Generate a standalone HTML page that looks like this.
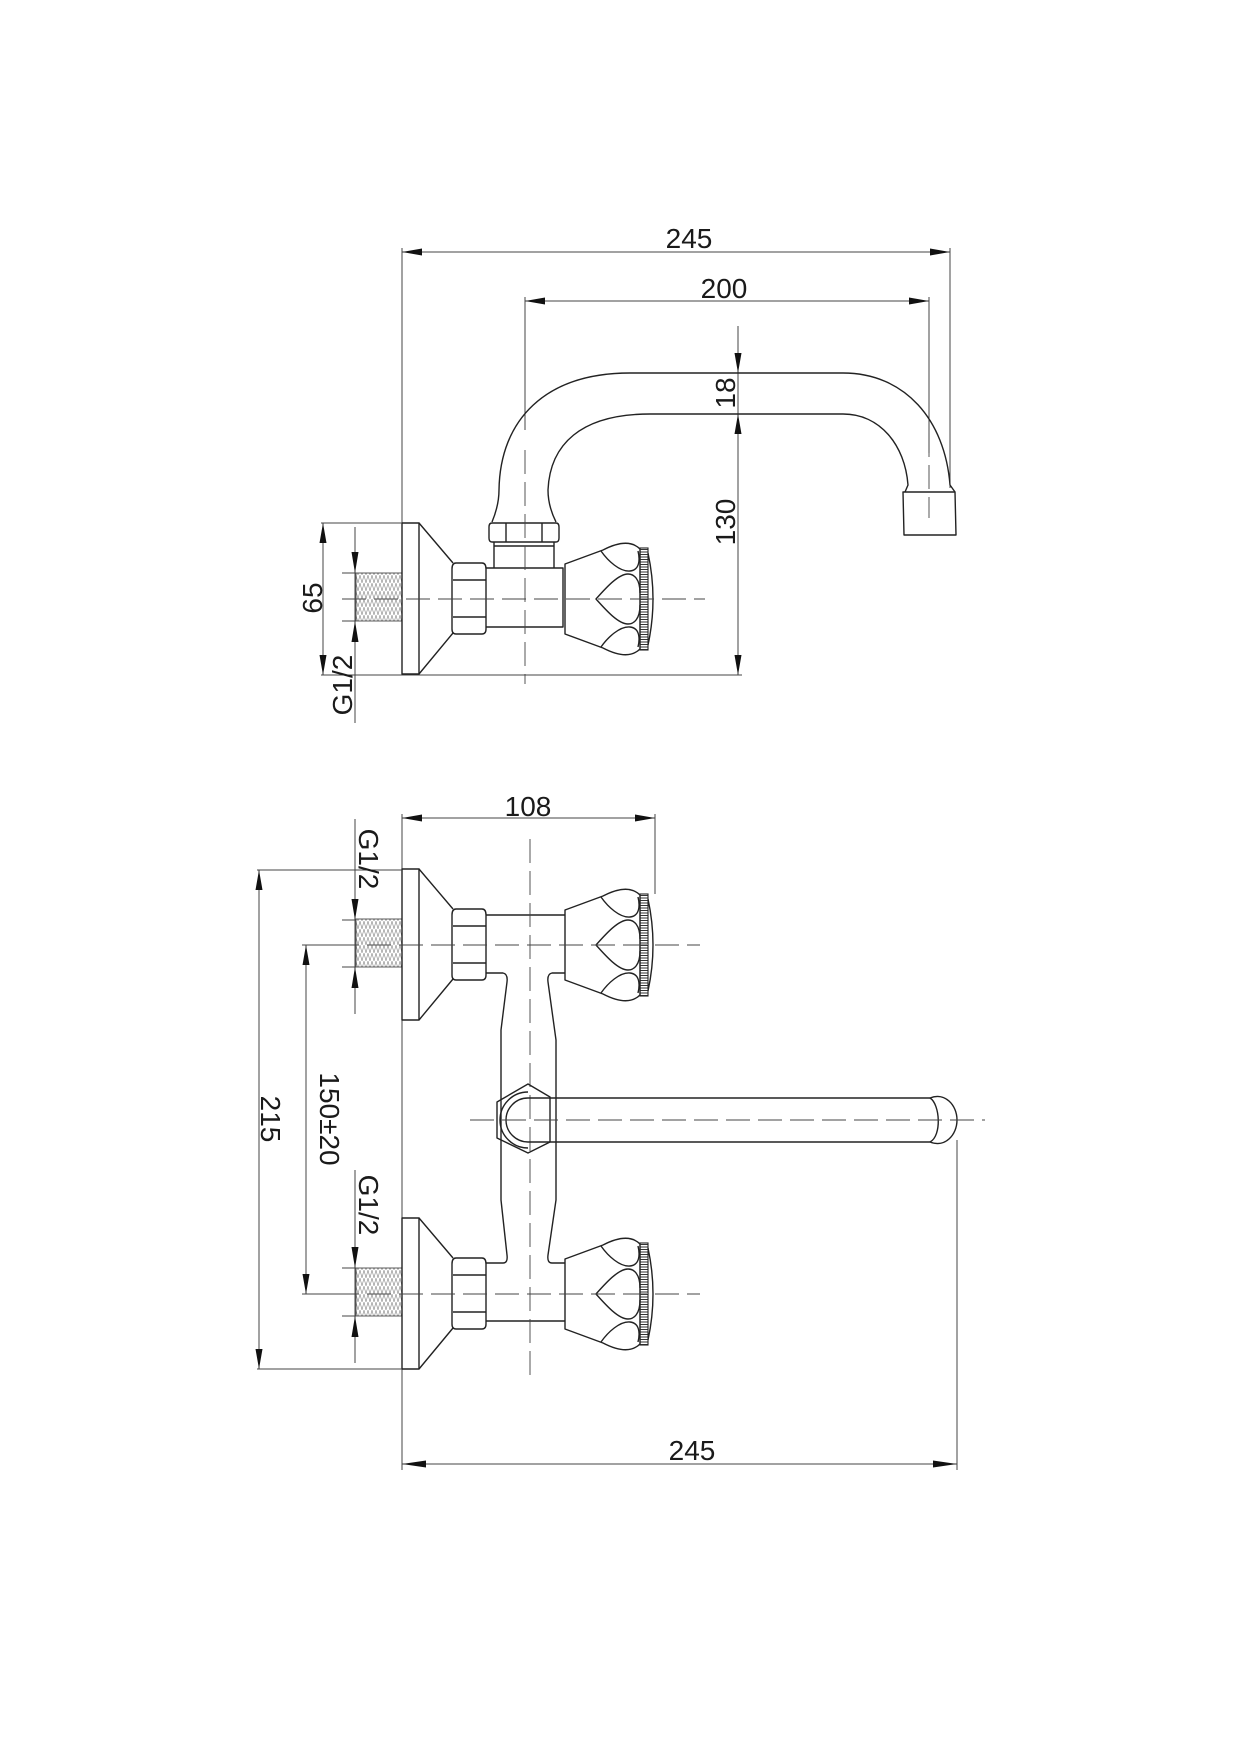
<!DOCTYPE html>
<html><head><meta charset="utf-8"><style>
html,body{margin:0;padding:0;background:#fff}
svg{display:block}
text{font-family:"Liberation Sans",Arial,sans-serif;font-size:28px;fill:#1a1a1a}
.o{fill:none;stroke:#222;stroke-width:1.4;stroke-linejoin:round}
.d{fill:none;stroke:#444;stroke-width:1}
.c{fill:none;stroke:#444;stroke-width:0.9;stroke-dasharray:24 8}
.a{fill:#111;stroke:none}
</style></head><body>
<svg width="1240" height="1754" viewBox="0 0 1240 1754" xmlns="http://www.w3.org/2000/svg">
<defs>
<pattern id="th" width="4" height="8" patternUnits="userSpaceOnUse">
<path d="M0,0 L2,8 L4,0" fill="none" stroke="#888" stroke-width="0.6"/>
</pattern>
<pattern id="kn" width="8" height="2.5" patternUnits="userSpaceOnUse">
<rect width="8" height="1" fill="#333"/>
</pattern>
<g id="valve">
<rect x="356" y="-26" width="46" height="48" fill="url(#th)" stroke="#333" stroke-width="0.8"/>
<rect class="o" x="402" y="-76" width="17" height="151"/>
<path class="o" d="M419,-76 L453,-36 M419,75 L453,34"/>
<path class="o" d="M456,-36 L482,-36 Q486,-36 486,-30 L486,30 Q486,35 482,35 L456,35 Q452,35 452,30 L452,-30 Q452,-36 456,-36 Z"/>
<path class="o" d="M453,-19 L486,-19 M453,18 L486,18"/>
<path class="o" d="M565,-35 L603,-49 Q628,-62 640,-50 L640,50 Q628,62 603,49 L565,35 Z"/>
<rect x="640" y="-51" width="8" height="102" fill="url(#kn)" stroke="#222" stroke-width="1.1"/>
<path class="o" d="M648,-46 Q658,0 648,46"/>
<path class="o" d="M601,-48 C608,-38 620,-27 630,-28 C640,-29 640,-40 638,-48"/>
<path class="o" d="M601,48 C608,38 620,27 630,28 C640,29 640,40 638,48"/>
<path class="o" d="M640,-6 C640,-20 634,-25 628,-25 C618,-25 605,-10 596,0 C605,10 618,25 628,25 C634,25 640,20 640,6"/>
</g>
</defs>

<!-- TOP VIEW -->
<line class="d" x1="402" y1="248" x2="402" y2="674"/>
<line class="d" x1="950" y1="248" x2="950" y2="488"/>
<line class="d" x1="402" y1="252" x2="950" y2="252"/>
<path class="a" d="M402,252 L422,248.5 L422,255.5 Z M950,252 L930,248.5 L930,255.5 Z"/>
<text x="689" y="248" text-anchor="middle">245</text>
<line class="d" x1="525" y1="297" x2="525" y2="430"/>
<line class="d" x1="929" y1="297" x2="929" y2="453"/>
<line class="d" x1="525" y1="301" x2="929" y2="301"/>
<path class="a" d="M525,301 L545,297.5 L545,304.5 Z M929,301 L909,297.5 L909,304.5 Z"/>
<text x="724" y="298" text-anchor="middle">200</text>
<line class="c" x1="929" y1="433" x2="929" y2="518"/>
<line class="d" x1="738" y1="326" x2="738" y2="675"/>
<path class="a" d="M738,373 L734.5,353 L741.5,353 Z M738,414 L734.5,434 L741.5,434 Z M738,675 L734.5,655 L741.5,655 Z"/>
<line class="d" x1="321" y1="675" x2="742" y2="675"/>
<text transform="translate(735,393) rotate(-90)" text-anchor="middle">18</text>
<text transform="translate(735,522) rotate(-90)" text-anchor="middle">130</text>
<path class="o" d="M492,522 C497,510 499,500 499,490 C500,420 545,373 630,373 L843,373 C905,373 945,420 950,485 L955,492"/>
<path class="o" d="M556,522 C550,510 548,500 548,490 C550,445 580,414 650,414 L843,414 C880,414 905,445 908,485 L905,492"/>
<path class="o" d="M903,492 L955,492 L956,535 L904,535 Z"/>
<path class="o" d="M492,523 L556,523 Q559,523 559,527 L559,538 Q559,542 556,542 L492,542 Q489,542 489,538 L489,527 Q489,523 492,523 Z"/>
<path class="o" d="M506,523 L506,542 M542,523 L542,542"/>
<path class="o" d="M494,542 L494,568 M554,542 L554,568 M494,546 L554,546"/>
<path class="o" d="M486,568 L563,568 L563,627 L486,627"/>
<g transform="translate(0,599)"><use href="#valve"/></g>
<line class="c" x1="342" y1="599" x2="705" y2="599"/>
<line class="c" x1="525" y1="450" x2="525" y2="684"/>
<line class="d" x1="321" y1="523" x2="402" y2="523"/>
<line class="d" x1="323" y1="523" x2="323" y2="675"/>
<path class="a" d="M323,523 L319.5,543 L326.5,543 Z M323,675 L319.5,655 L326.5,655 Z"/>
<text transform="translate(322,598) rotate(-90)" text-anchor="middle">65</text>
<line class="d" x1="355" y1="527" x2="355" y2="723"/>
<line class="d" x1="342" y1="573" x2="356" y2="573"/>
<line class="d" x1="342" y1="621" x2="356" y2="621"/>
<path class="a" d="M355,573 L351.5,552 L358.5,552 Z M355,621 L351.5,642 L358.5,642 Z"/>
<text transform="translate(352,685) rotate(-90)" text-anchor="middle">G1/2</text>

<!-- BOTTOM VIEW -->
<line class="d" x1="402" y1="814" x2="402" y2="1470"/>
<line class="d" x1="655" y1="814" x2="655" y2="894"/>
<line class="d" x1="402" y1="818" x2="655" y2="818"/>
<path class="a" d="M402,818 L422,814.5 L422,821.5 Z M655,818 L635,814.5 L635,821.5 Z"/>
<text x="528" y="816" text-anchor="middle">108</text>
<path class="o" d="M486,973 L503,973 Q508,974 507,982 L501,1030 L501,1200 L507,1255 Q508,1263 503,1263 L486,1263"/>
<path class="o" d="M565,973 L552,973 Q547,974 548,982 L556,1040 L556,1200 L548,1255 Q547,1263 552,1263 L565,1263"/>
<path class="o" d="M486,915 L565,915 M486,1321 L565,1321"/>
<g transform="translate(0,945)"><use href="#valve"/></g>
<g transform="translate(0,1294)"><use href="#valve"/></g>
<line class="c" x1="335" y1="945" x2="700" y2="945"/>
<line class="c" x1="335" y1="1294" x2="700" y2="1294"/>
<line class="c" x1="530" y1="839" x2="530" y2="1382"/>
<path fill="#fff" class="o" d="M497,1102 L528,1084 L550,1097 L550,1142 L528,1153 L497,1138 Z"/>
<path class="o" d="M528,1092 A27,27 0 0 0 528,1148"/>
<path fill="#fff" class="o" d="M930,1098 L528,1098 A22,22 0 0 0 528,1142 L930,1142 C945,1148 957,1135 957,1120 C957,1105 945,1092 930,1098 Z"/>
<path class="o" d="M930,1098 C940,1104 942,1136 930,1142"/>
<line class="c" x1="470" y1="1120" x2="985" y2="1120"/>
<line class="d" x1="957" y1="1140" x2="957" y2="1470"/>
<line class="d" x1="402" y1="1464" x2="957" y2="1464"/>
<path class="a" d="M402,1464 L426,1460.5 L426,1467.5 Z M957,1464 L933,1460.5 L933,1467.5 Z"/>
<text x="692" y="1460" text-anchor="middle">245</text>
<line class="d" x1="257" y1="870" x2="402" y2="870"/>
<line class="d" x1="257" y1="1369" x2="402" y2="1369"/>
<line class="d" x1="259" y1="870" x2="259" y2="1369"/>
<path class="a" d="M259,870 L255.5,890 L262.5,890 Z M259,1369 L255.5,1349 L262.5,1349 Z"/>
<text transform="translate(261,1119) rotate(90)" text-anchor="middle">215</text>
<line class="d" x1="302" y1="945" x2="336" y2="945"/>
<line class="d" x1="302" y1="1294" x2="336" y2="1294"/>
<line class="d" x1="306" y1="945" x2="306" y2="1294"/>
<path class="a" d="M306,945 L302.5,965 L309.5,965 Z M306,1294 L302.5,1274 L309.5,1274 Z"/>
<text transform="translate(320,1119) rotate(90)" text-anchor="middle">150±20</text>
<line class="d" x1="355" y1="819" x2="355" y2="1014"/>
<line class="d" x1="342" y1="920" x2="356" y2="920"/>
<line class="d" x1="342" y1="967" x2="356" y2="967"/>
<path class="a" d="M355,920 L351.5,899 L358.5,899 Z M355,967 L351.5,988 L358.5,988 Z"/>
<text transform="translate(359,859) rotate(90)" text-anchor="middle">G1/2</text>
<line class="d" x1="355" y1="1170" x2="355" y2="1363"/>
<line class="d" x1="342" y1="1268" x2="356" y2="1268"/>
<line class="d" x1="342" y1="1316" x2="356" y2="1316"/>
<path class="a" d="M355,1268 L351.5,1247 L358.5,1247 Z M355,1316 L351.5,1337 L358.5,1337 Z"/>
<text transform="translate(359,1205) rotate(90)" text-anchor="middle">G1/2</text>
</svg>
</body></html>
